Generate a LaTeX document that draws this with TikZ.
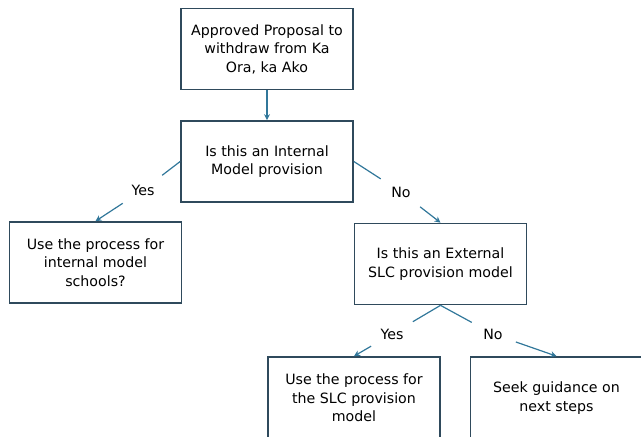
\documentclass[tikz,border=0pt]{standalone}
\usepackage{xcolor}
\usepackage{fontspec}
\setmainfont{DejaVu Sans}
\usetikzlibrary{arrows.meta}
\definecolor{boxline}{HTML}{2F4A5C}
\definecolor{flowline}{HTML}{31779A}

\begin{document}
\begin{tikzpicture}[x=1pt,y=-1pt,
    stepbox/.style={rectangle, draw=boxline, line width=1.7pt, minimum width=172pt,
      minimum height=81pt, align=center, font=\fontsize{14.2}{18.5}\selectfont},
    choice/.style={circle, inner sep=0pt, minimum size=48pt, font=\fontsize{14.2}{16}\selectfont},
    flow/.style={draw=flowline, line width=1.2pt},
    flowarrow/.style={flow, -{Stealth[length=6pt,width=6pt]}}]
    \useasboundingbox (0,0) rectangle (641,437);
    \clip (0,0) rectangle (641,437);
    \node [stepbox] (approved) at (267,49) {Approved Proposal to\\withdraw from Ka\\Ora, ka Ako};
    \node [stepbox] (internal) at (267,161.5) {Is this an Internal\\Model provision};
    \node [stepbox] (internalproc) at (95.5,262.5) {Use the process for\\internal model\\schools?};
    \node [stepbox] (external) at (440.5,264) {Is this an External\\SLC provision model};
    \node [stepbox, minimum height=82pt] (slcproc) at (354,398) {Use the process for\\the SLC provision\\model};
    \node [stepbox, minimum height=82pt] (guidance) at (556.5,398) {Seek guidance on\\next steps};
    % answers
    \node [choice] (yesint) at (143,190) {Yes};
    \node [choice] (noint) at (401,192) {No};
    \node [choice] (yesext) at (392,334) {Yes};
    \node [choice] (noext) at (493,334) {No};
    % connectors
    \draw [flowarrow] (approved.south) -- (internal.north);
    \draw [flow] (internal.west) -- (yesint);
    \draw [flowarrow] (yesint) -- (internalproc.north);
    \draw [flow] (internal.east) -- (noint);
    \draw [flowarrow] (noint) -- (external.north);
    \draw [flow] (external.south) -- (yesext);
    \draw [flowarrow] (yesext) -- (slcproc.north);
    \draw [flow] (external.south) -- (noext);
    \draw [flowarrow] (noext) -- (guidance.north);
\end{tikzpicture}
\end{document}
